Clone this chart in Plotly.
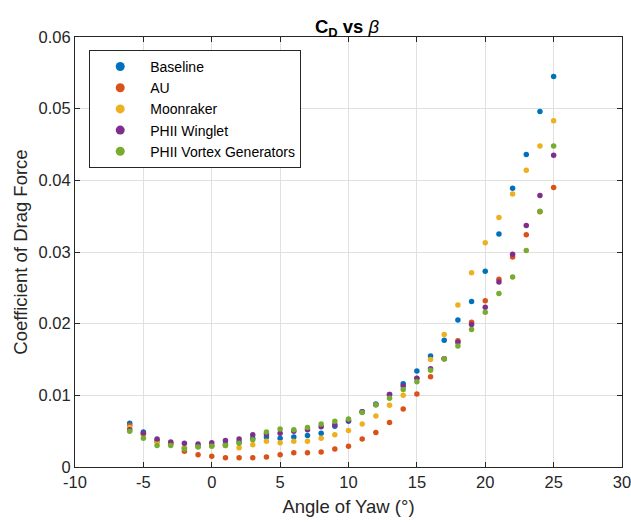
import plotly.graph_objects as go

# yaw angle (deg)
yaw = list(range(-6, 26))

baseline = [0.0061, 0.0049, 0.0037, 0.0033, 0.0027, 0.0029, 0.0030, 0.0032,
            0.0035, 0.0040, 0.0042, 0.0040, 0.0042, 0.0044, 0.0047, 0.0057,
            0.0064, 0.0077, 0.0088, 0.0101, 0.0116, 0.0134, 0.0155, 0.0177,
            0.0205, 0.0231, 0.0273, 0.0325, 0.0389, 0.0436, 0.0496, 0.0545]
au = [0.0058, 0.0046, 0.0036, 0.0033, 0.0022, 0.0017, 0.0015, 0.0013,
      0.0013, 0.0013, 0.0014, 0.0017, 0.0020, 0.0020, 0.0021, 0.0025,
      0.0029, 0.0039, 0.0048, 0.0062, 0.0081, 0.0102, 0.0126, 0.0151,
      0.0176, 0.0202, 0.0232, 0.0262, 0.0293, 0.0324, 0.0356, 0.0390]
moonraker = [0.0055, 0.0045, 0.0035, 0.0033, 0.0027, 0.0029, 0.0030, 0.0030,
             0.0027, 0.0031, 0.0036, 0.0034, 0.0036, 0.0036, 0.0040, 0.0045,
             0.0051, 0.0060, 0.0071, 0.0086, 0.0100, 0.0124, 0.0150, 0.0185,
             0.0226, 0.0271, 0.0313, 0.0348, 0.0381, 0.0414, 0.0448, 0.0483]
winglet = [0.0052, 0.0047, 0.0039, 0.0035, 0.0033, 0.0032, 0.0034, 0.0037,
           0.0039, 0.0045, 0.0046, 0.0047, 0.0050, 0.0052, 0.0056, 0.0059,
           0.0065, 0.0077, 0.0087, 0.0101, 0.0113, 0.0124, 0.0137, 0.0151,
           0.0174, 0.0199, 0.0223, 0.0258, 0.0297, 0.0337, 0.0379, 0.0435]
vortex_gen = [0.0050, 0.0040, 0.0030, 0.0030, 0.0025, 0.0028, 0.0029, 0.0030,
              0.0033, 0.0038, 0.0049, 0.0053, 0.0052, 0.0055, 0.0060, 0.0064,
              0.0067, 0.0076, 0.0087, 0.0096, 0.0108, 0.0119, 0.0135, 0.0151,
              0.0169, 0.0192, 0.0216, 0.0242, 0.0265, 0.0302, 0.0357, 0.0448]

names = ["Baseline", "AU", "Moonraker", "PHII Winglet", "PHII Vortex Generators"]
series = [baseline, au, moonraker, winglet, vortex_gen]
colors = ["#0072BD", "#D95319", "#EDB120", "#7E2F8E", "#77AC30"]

x_ticks = [-10, -5, 0, 5, 10, 15, 20, 25, 30]
x_tick_text = ["-10", "-5", "0", "5", "10", "15", "20", "25", "30"]
y_ticks = [0, 0.01, 0.02, 0.03, 0.04, 0.05, 0.06]
y_tick_text = ["0", "0.01", "0.02", "0.03", "0.04", "0.05", "0.06"]

fig = go.Figure()

for name, vals, col in zip(names, series, colors):
    fig.add_trace(go.Scatter(
        x=yaw, y=vals, mode="markers", name=name, showlegend=False,
        marker=dict(color=col, size=5.5)
    ))

# legend entries with bigger dots
for name, col in zip(names, colors):
    fig.add_trace(go.Scatter(
        x=[None], y=[None], mode="markers", name=name,
        marker=dict(color=col, size=9)
    ))

axis_style = dict(
    showline=True, linecolor="#262626", linewidth=1, mirror="ticks",
    ticks="inside", ticklen=5, tickcolor="#262626",
    showgrid=True, gridcolor="#e0e0e0", gridwidth=1,
    zeroline=False, automargin=False, ticklabeloverflow="allow",
    tickfont=dict(size=16.5, color="#262626"),
)

fig.update_layout(
    width=631, height=525,
    margin=dict(l=75, r=9, t=37, b=58),
    paper_bgcolor="white", plot_bgcolor="white",
    font=dict(family="Liberation Sans, Arial, sans-serif", color="#262626"),
    title=dict(
        text="<b>C<sub>D</sub> vs </b><i>β</i>",
        x=0.55, xanchor="center", y=0.949, yanchor="middle",
        font=dict(size=18.5, color="black"),
    ),
    xaxis=dict(range=[-10, 30], tickvals=x_ticks, ticktext=x_tick_text,
               title=dict(text="Angle of Yaw (°)", font=dict(size=18.5), standoff=10),
               **axis_style),
    yaxis=dict(range=[0, 0.06], tickvals=y_ticks, ticktext=y_tick_text,
               title=dict(text="Coefficient of Drag Force", font=dict(size=18.5), standoff=6),
               **axis_style),
    legend=dict(
        x=0.026, y=0.97, xanchor="left", yanchor="top",
        bgcolor="white", bordercolor="#262626", borderwidth=1,
        font=dict(size=14, color="black"), itemwidth=50,
        tracegroupgap=0,
    ),
)

# drop the default page margin so the figure fills the window exactly
fig.write_html("out.html", config={"displayModeBar": False},
               post_script="document.body.style.margin='0';")
